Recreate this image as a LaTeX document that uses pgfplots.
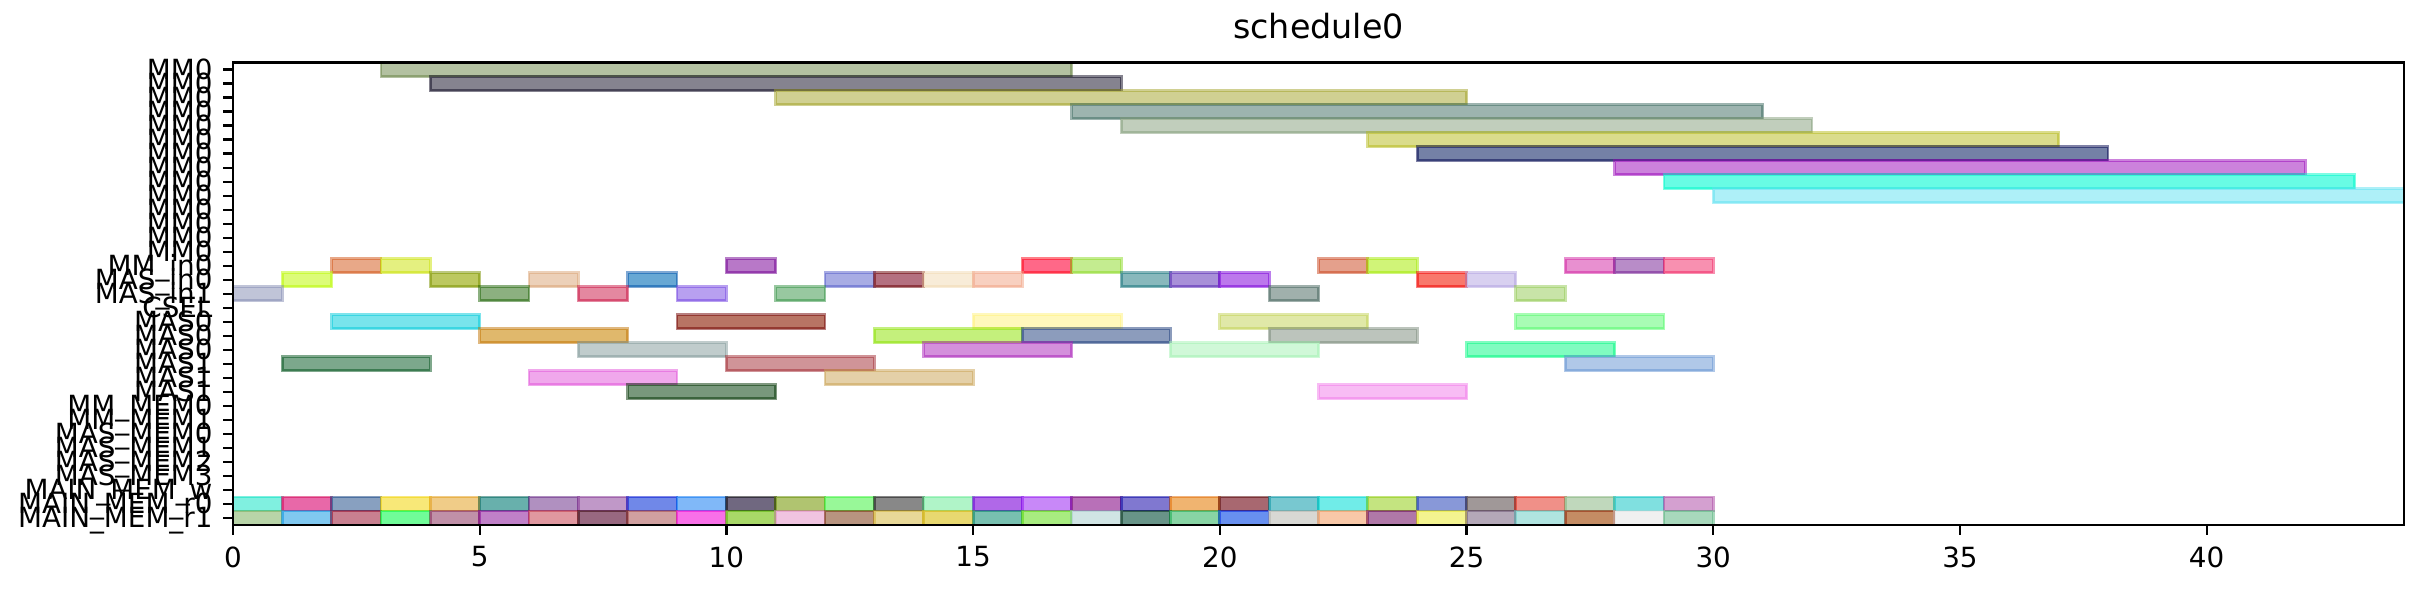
\documentclass[border=0pt]{standalone}
\usepackage{fontspec}
\setmainfont{DejaVu Sans}
\usepackage{pgfplots}
\usepackage{pgfplotstable}
\pgfplotsset{compat=1.18}

% s = start, e = end, row = category index (0 = top), r g b = bar colour
\pgfplotstableread{
s e row r g b
3 17 0 179 193 161
4 18 1 133 131 143
11 25 2 208 208 146
17 31 3 157 180 175
18 32 4 193 206 188
23 37 5 218 220 140
24 38 6 116 129 166
28 42 7 204 130 220
29 43 8 104 252 228
30 44 9 174 240 248
2 3 14 232 168 136
3 4 14 228 240 128
10 11 14 184 120 200
16 17 14 255 104 136
17 18 14 196 236 144
22 23 14 228 160 140
23 24 14 208 244 120
27 28 14 232 144 208
28 29 14 184 140 200
29 30 14 248 144 176
1 2 15 220 252 120
4 5 15 188 200 96
6 7 15 236 208 184
8 9 15 104 168 212
12 13 15 168 172 228
13 14 15 180 112 128
14 15 15 248 236 216
15 16 15 248 208 192
18 19 15 136 184 188
19 20 15 168 144 216
20 21 15 188 120 236
24 25 15 248 120 108
25 26 15 216 208 240
0 1 16 192 196 216
5 6 16 140 176 128
7 8 16 228 136 160
9 10 16 184 160 240
11 12 16 152 200 160
21 22 16 160 176 172
26 27 16 200 228 168
2 5 18 120 228 236
9 12 18 184 116 100
15 18 18 255 248 188
20 23 18 224 232 168
26 29 18 168 252 180
5 8 19 224 184 108
13 16 19 196 240 124
16 19 19 140 156 188
21 24 19 188 196 188
7 10 20 192 204 204
14 17 20 212 144 220
19 22 20 208 248 216
25 28 20 128 252 192
1 4 21 124 168 140
10 13 21 208 148 152
27 30 21 176 200 232
6 9 22 240 168 236
12 15 22 228 208 168
8 11 23 120 152 124
22 25 23 248 188 244
0 1 31 128 240 224
1 2 31 232 104 168
2 3 31 136 160 192
3 4 31 248 232 120
4 5 31 240 204 136
5 6 31 104 176 172
6 7 31 176 144 192
7 8 31 192 152 200
8 9 31 112 136 232
9 10 31 128 184 248
10 11 31 112 104 128
11 12 31 176 196 112
12 13 31 152 248 152
13 14 31 136 136 136
14 15 31 176 244 200
15 16 31 176 104 232
16 17 31 200 136 248
17 18 31 184 112 184
18 19 31 128 120 208
19 20 31 240 180 112
20 21 31 168 104 112
21 22 31 120 200 208
22 23 31 112 236 232
23 24 31 196 228 128
24 25 31 136 152 216
25 26 31 160 152 152
26 27 31 240 144 136
27 28 31 192 216 188
28 29 31 128 224 224
29 30 31 212 160 208
0 1 32 184 212 168
1 2 32 128 200 240
2 3 32 200 128 144
3 4 32 112 252 152
4 5 32 192 144 168
5 6 32 192 128 200
6 7 32 224 152 160
7 8 32 152 104 128
8 9 32 208 160 160
9 10 32 248 112 232
10 11 32 168 216 104
11 12 32 240 196 224
12 13 32 184 148 128
13 14 32 232 216 152
14 15 32 232 216 112
15 16 32 120 192 176
16 17 32 168 236 128
17 18 32 208 228 228
18 19 32 104 148 136
19 20 32 136 212 164
20 21 32 104 144 240
21 22 32 216 216 212
22 23 32 248 200 168
23 24 32 176 120 168
24 25 32 244 244 144
25 26 32 180 168 184
26 27 32 176 228 224
27 28 32 196 140 100
28 29 32 240 240 240
29 30 32 168 216 188
}\bars

\newcommand{\gbar}[6]{%
  \pgfmathtruncatemacro\eR{max(0,2*#4-255)}%
  \pgfmathtruncatemacro\eG{max(0,2*#5-255)}%
  \pgfmathtruncatemacro\eB{max(0,2*#6-255)}%
  \pgfmathsetmacro\yLo{#3-0.5}%
  \pgfmathsetmacro\yHi{#3+0.5}%
  \edef\doit{\noexpand\addplot[forget plot,
    fill={rgb,255:red,#4;green,#5;blue,#6},
    draw={rgb,255:red,\eR;green,\eG;blue,\eB}, draw opacity=0.5,
    line width=1pt]
    coordinates {(#1,\yLo) (#2,\yLo) (#2,\yHi) (#1,\yHi)} --cycle;}%
  \doit}

\begin{document}
\begin{tikzpicture}
\useasboundingbox (0,0) rectangle (872.28pt,213.12pt);
\begin{axis}[
  at={(83.88pt,24.12pt)}, anchor=south west,
  scale only axis, width=781.56pt, height=166.5pt,
  xmin=0, xmax=44, ymin=-0.5, ymax=32.5, y dir=reverse,
  xtick={0,5,...,40}, ytick={0,...,32},
  yticklabels={MM0,MM0,MM0,MM0,MM0,MM0,MM0,MM0,MM0,MM0,MM0,MM0,MM0,MM0,
    MM\_in0,MAS\_in0,MAS\_in1,CSEL,MAS0,MAS0,MAS0,MAS1,MAS1,MAS1,
    MM\_MEM0,MM\_MEM1,MAS\_MEM0,MAS\_MEM1,MAS\_MEM2,MAS\_MEM3,
    MAIN\_MEM\_w,MAIN\_MEM\_r0,MAIN\_MEM\_r1},
  tick align=outside, major tick length=3.5pt, tick pos=left,
  axis line style={line width=0.8pt},
  every tick/.style={black, line width=0.8pt},
  /pgf/number format/assume math mode=true,
  ticklabel style={font=\fontsize{10}{12}\selectfont},
  yticklabel style={anchor=base east, inner sep=0pt, yshift=-3.6pt, xshift=-3.7pt},
  xticklabel style={anchor=north, inner sep=0pt, yshift=-4.1pt},
  title={schedule0},
  title style={font=\fontsize{12}{14}\selectfont, at={(0.5,1)}, anchor=base, yshift=2.8pt, inner sep=0pt},
  axis on top,
]
\pgfplotstablegetrowsof{\bars}
\pgfmathtruncatemacro\nbars{\pgfplotsretval-1}
\pgfplotsforeachungrouped \i in {0,...,\nbars}{%
  \pgfplotstablegetelem{\i}{s}\of\bars \edef\bS{\pgfplotsretval}%
  \pgfplotstablegetelem{\i}{e}\of\bars \edef\bE{\pgfplotsretval}%
  \pgfplotstablegetelem{\i}{row}\of\bars \edef\bY{\pgfplotsretval}%
  \pgfplotstablegetelem{\i}{r}\of\bars \edef\cR{\pgfplotsretval}%
  \pgfplotstablegetelem{\i}{g}\of\bars \edef\cG{\pgfplotsretval}%
  \pgfplotstablegetelem{\i}{b}\of\bars \edef\cB{\pgfplotsretval}%
  \gbar{\bS}{\bE}{\bY}{\cR}{\cG}{\cB}%
}
\end{axis}
\end{tikzpicture}
\end{document}
